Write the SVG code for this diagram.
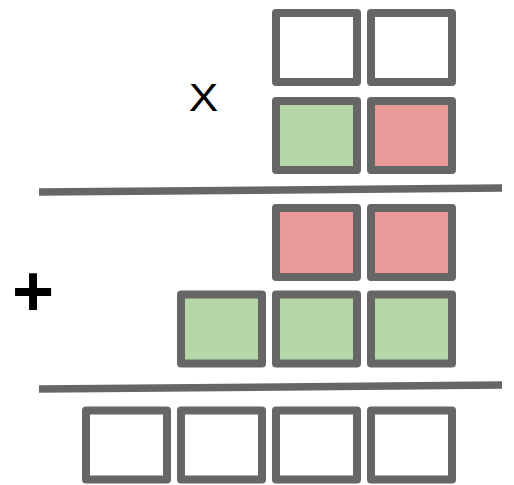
<svg xmlns="http://www.w3.org/2000/svg" width="514" height="485" viewBox="0 0 514 485">
<style>
.box{stroke:#666666;stroke-width:8;stroke-linejoin:round;fill:#ffffff}
.g{fill:#b6d7a8}
.r{fill:#ea9999}
.rule{stroke:#666666;stroke-width:7.5;fill:none}
.sym{font-family:"Liberation Sans",Arial,sans-serif;fill:#000000;text-anchor:middle}
</style>
<rect width="514" height="485" fill="#ffffff"/>
<g id="row1">
<rect id="a1" class="box" x="276" y="13" width="81" height="69"/>
<rect id="a2" class="box" x="371" y="13" width="81" height="69"/>
</g>
<g id="row2">
<rect id="b1" class="box g" x="276" y="101" width="81" height="69"/>
<rect id="b2" class="box r" x="371" y="101" width="81" height="69"/>
</g>
<g id="row3">
<rect id="c1" class="box r" x="276" y="208" width="81" height="69"/>
<rect id="c2" class="box r" x="371" y="208" width="81" height="69"/>
</g>
<g id="row4">
<rect id="d1" class="box g" x="181" y="294.5" width="81" height="69"/>
<rect id="d2" class="box g" x="276" y="294.5" width="81" height="69"/>
<rect id="d3" class="box g" x="371" y="294.5" width="81" height="69"/>
</g>
<g id="row5">
<rect id="e1" class="box" x="86" y="410.5" width="81" height="69"/>
<rect id="e2" class="box" x="181" y="410.5" width="81" height="69"/>
<rect id="e3" class="box" x="276" y="410.5" width="81" height="69"/>
<rect id="e4" class="box" x="371" y="410.5" width="81" height="69"/>
</g>
<g id="connectors">
<line class="rule" x1="39" y1="192" x2="502" y2="188"/>
<line class="rule" x1="39" y1="389" x2="502" y2="385"/>
</g>
<g id="labels">
<text id="times" class="sym" x="203.5" y="110.7" font-size="39" textLength="29.5" lengthAdjust="spacingAndGlyphs">X</text>
<text id="plus" class="sym" x="33" y="315.5" font-size="72" font-weight="bold">+</text>
</g>
</svg>
